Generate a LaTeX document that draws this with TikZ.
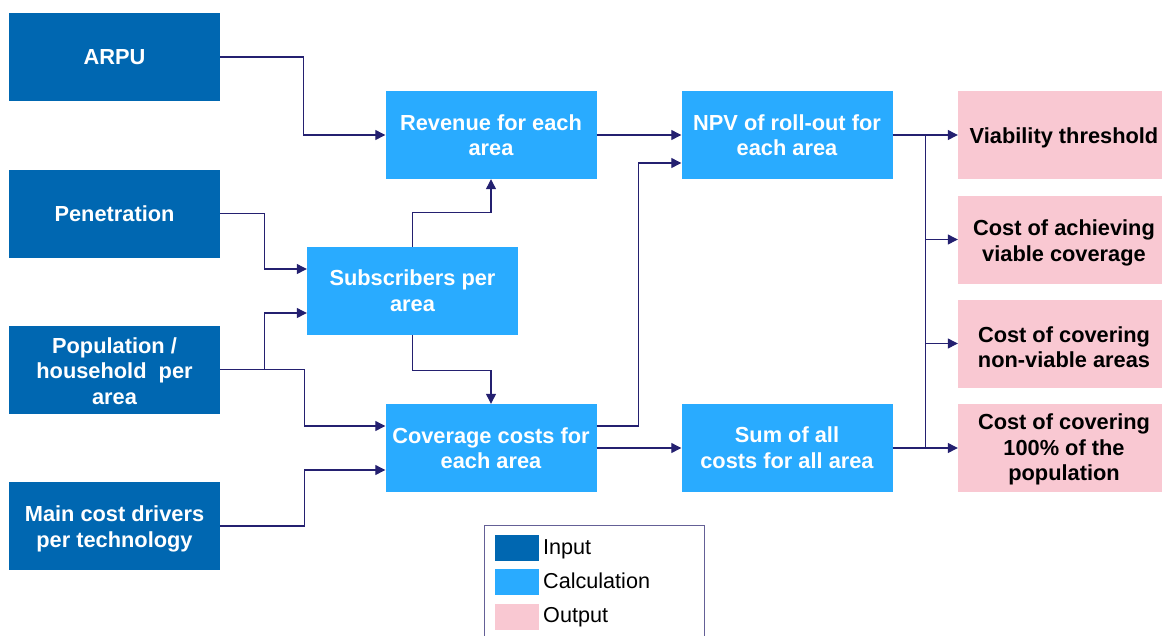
\documentclass[tikz,border=0pt]{standalone}
\usepackage{fontspec}
\setmainfont{Liberation Sans}
\usetikzlibrary{arrows.meta,calc}
\definecolor{inpc}{RGB}{0,103,177}
\definecolor{calcc}{RGB}{41,171,255}
\definecolor{outc}{RGB}{249,200,210}
\definecolor{linec}{RGB}{36,32,112}
\definecolor{legc}{RGB}{100,96,150}
\begin{document}
\begin{tikzpicture}[x=1pt,y=-1pt,
  box/.style={rectangle, inner sep=0pt, minimum width=211pt, minimum height=88pt},
  inbox/.style={box, fill=inpc},
  calcbox/.style={box, fill=calcc},
  outbox/.style={box, fill=outc, minimum width=204pt},
  lbl/.style={inner sep=0pt, align=center, font=\fontsize{21.8}{25.5}\selectfont\bfseries},
  wlbl/.style={lbl, text=white},
  klbl/.style={lbl, text=black, xshift=4pt},
  one/.style={text depth=0pt},
  conn/.style={draw=linec, line width=1.2pt, -{Triangle[length=10pt,width=10pt]}},
  wire/.style={draw=linec, line width=1.2pt},
  swatch/.style={rectangle, inner sep=0pt, minimum width=44pt, minimum height=26pt},
  legtext/.style={anchor=base west, inner sep=0pt, font=\fontsize{21.6}{25.5}\selectfont}
]
\useasboundingbox (0,0) rectangle (1162,635);

\node[inbox] (arpu) at (114.5,57) {};
\node[inbox] (pen) at (114.5,213.5) {};
\node[inbox] (pop) at (114.5,369.5) {};
\node[inbox] (cost) at (114.5,526) {};
\node[calcbox] (rev) at (491,135) {};
\node[calcbox] (subs) at (412.5,291) {};
\node[calcbox] (cov) at (491,448) {};
\node[calcbox] (npv) at (787,135) {};
\node[calcbox] (sum) at (787,448) {};
\node[outbox] (o1) at (1060,135) {};
\node[outbox] (o2) at (1060,239.5) {};
\node[outbox] (o3) at (1060,343.5) {};
\node[outbox] (o4) at (1060,448) {};

\node[wlbl, one] (arput) at (arpu) {ARPU};
\node[wlbl, one] (pent) at (pen) {Penetration};
\node[wlbl, yshift=-1.5pt] (popt) at (pop) {Population /\\household\ \ per\\area};
\node[wlbl, yshift=-3pt] (costt) at (cost) {Main cost drivers\\per technology};
\node[wlbl] (revt) at (rev) {Revenue for each\\area};
\node[wlbl, yshift=0.5pt] (subst) at (subs) {Subscribers per\\area};
\node[wlbl] (covt) at (cov) {Coverage costs for\\each area};
\node[wlbl] (npvt) at (npv) {NPV of roll-out for\\each area};
\node[wlbl, yshift=0.5pt] (sumt) at (sum) {Sum of all\\costs for all area};
\node[klbl, one, yshift=-0.5pt] (o1t) at (o1) {Viability threshold};
\node[klbl, yshift=-3.5pt] (o2t) at (o2) {Cost of achieving\\viable coverage};
\node[klbl, yshift=-3.5pt] (o3t) at (o3) {Cost of covering\\non-viable areas};
\node[klbl, yshift=-1.5pt] (o4t) at (o4) {Cost of covering\\100\% of the\\population};

\draw[conn] (arpu.east) -- ++(83,0) |- (rev.west);
\draw[conn] (pen.east) -- ++(44,0) |- ([yshift=22pt]subs.west);
\draw[conn] (pop.east) -- ++(44,0) |- ([yshift=-22pt]subs.west);
\draw[conn] (pop.east) -- ++(84,0) |- ([yshift=22pt]cov.west);
\draw[conn] (cost.east) -- ++(84,0) |- ([yshift=-22pt]cov.west);
\draw[conn] (subs.north) -- ++(0,-34) -| (rev.south);
\draw[conn] (subs.south) -- ++(0,35) -| (cov.north);
\draw[conn] (rev.east) -- (npv.west);
\draw[conn] ([yshift=22pt]cov.east) -- ++(42,0) |- ([yshift=-28pt]npv.west);
\draw[conn] (cov.east) -- (sum.west);
\draw[wire] (npv.east) -- ++(33,0) coordinate (bt);
\draw[wire] (sum.east) -- ++(33,0) coordinate (bb);
\draw[wire] (bt) -- (bb);
\draw[conn] (bt) -- (o1.west);
\draw[conn] (bt |- o2.west) -- (o2.west);
\draw[conn] (bt |- o3.west) -- (o3.west);
\draw[conn] (bb) -- (o4.west);

\draw[legc, line width=1pt] (484,640) coordinate (lgA) -- (484,525) coordinate (lgB) -- (704,525) coordinate (lgC) -- (704,640) coordinate (lgD);
\node[swatch, fill=inpc] (s1) at (517,548) {};
\node[swatch, fill=calcc] (s2) at (517,582) {};
\node[swatch, fill=outc] (s3) at (517,617) {};
\node[legtext] (t1) at (543,554) {Input};
\node[legtext] (t2) at (543,588) {Calculation};
\node[legtext] (t3) at (543,622) {Output};
\end{tikzpicture}
\end{document}
